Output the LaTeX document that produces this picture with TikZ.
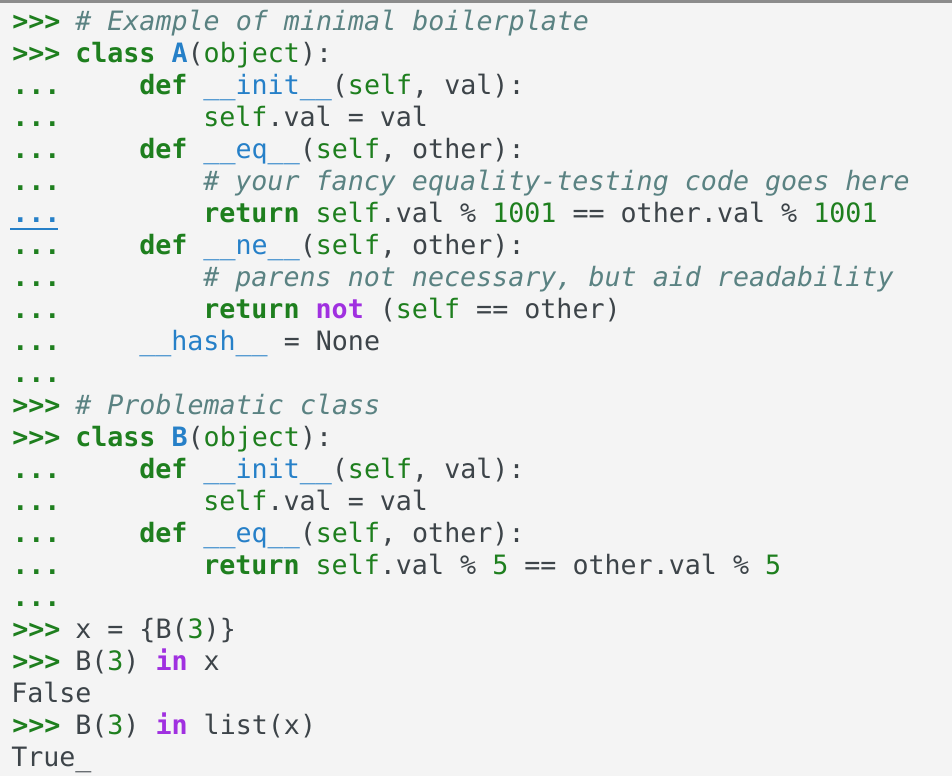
\documentclass[tikz,border=0pt]{standalone}
\usepackage{fontspec}
\setmonofont{DejaVu Sans Mono}
\definecolor{bgc}{HTML}{F4F4F4}
\definecolor{txt}{HTML}{3D4449}
\definecolor{kwc}{HTML}{1E7F1E}
\definecolor{blc}{HTML}{2680C8}
\definecolor{cmc}{HTML}{5A8282}
\definecolor{puc}{HTML}{A030E0}
\newcommand{\kw}[1]{\textcolor{kwc}{\bfseries #1}}
\newcommand{\gr}[1]{\textcolor{kwc}{#1}}
\newcommand{\bl}[1]{\textcolor{blc}{#1}}
\newcommand{\blb}[1]{\textcolor{blc}{\bfseries #1}}
\newcommand{\cm}[1]{\textcolor{cmc}{\itshape #1}}
\newcommand{\pu}[1]{\textcolor{puc}{\bfseries #1}}
\newcommand{\pin}{\kw{>>>}}
\newcommand{\pdot}{\kw{...}}
% one line of the session: number, indent, prompt, code
\newcommand{\codeline}[4]{%
  \node[code, anchor=base west] (p#1) at (12,{30+32*(#1-1)}) {#3};
  \node[code, anchor=base west] (c#1) at ({75+16*#2},{30+32*(#1-1)}) {#4};
}
\begin{document}
\begin{tikzpicture}[
    x=0.75pt, y=-0.75pt,
    code/.style={inner sep=0pt, text=txt, font=\ttfamily\fontsize{20}{22}\selectfont}
  ]
  \fill[bgc] (0,0) rectangle (952,776);
  \fill[black!45] (0,0) rectangle (952,3);
  \useasboundingbox (0,0) rectangle (952,776);
  \codeline{1}{0}{\pin}{\cm{\# Example of minimal boilerplate}}
  \codeline{2}{0}{\pin}{\kw{class} \blb{A}(\gr{object}):}
  \codeline{3}{4}{\pdot}{\kw{def} \bl{\_\_init\_\_}(\gr{self}, val):}
  \codeline{4}{8}{\pdot}{\gr{self}.val = val}
  \codeline{5}{4}{\pdot}{\kw{def} \bl{\_\_eq\_\_}(\gr{self}, other):}
  \codeline{6}{8}{\pdot}{\cm{\# your fancy equality-testing code goes here}}
  \codeline{7}{8}{\textcolor{blc}{\bfseries ...}}{\kw{return} \gr{self}.val \% \gr{1001} == other.val \% \gr{1001}}
  \codeline{8}{4}{\pdot}{\kw{def} \bl{\_\_ne\_\_}(\gr{self}, other):}
  \codeline{9}{8}{\pdot}{\cm{\# parens not necessary, but aid readability}}
  \codeline{10}{8}{\pdot}{\kw{return} \pu{not} (\gr{self} == other)}
  \codeline{11}{4}{\pdot}{\bl{\_\_hash\_\_} = None}
  \codeline{12}{0}{\pdot}{}
  \codeline{13}{0}{\pin}{\cm{\# Problematic class}}
  \codeline{14}{0}{\pin}{\kw{class} \blb{B}(\gr{object}):}
  \codeline{15}{4}{\pdot}{\kw{def} \bl{\_\_init\_\_}(\gr{self}, val):}
  \codeline{16}{8}{\pdot}{\gr{self}.val = val}
  \codeline{17}{4}{\pdot}{\kw{def} \bl{\_\_eq\_\_}(\gr{self}, other):}
  \codeline{18}{8}{\pdot}{\kw{return} \gr{self}.val \% \gr{5} == other.val \% \gr{5}}
  \codeline{19}{0}{\pdot}{}
  \codeline{20}{0}{\pin}{x = \{B(\gr{3})\}}
  \codeline{21}{0}{\pin}{B(\gr{3}) \pu{in} x}
  \codeline{22}{-4}{}{False}
  \codeline{23}{0}{\pin}{B(\gr{3}) \pu{in} list(x)}
  \codeline{24}{-4}{}{True\_}
  \draw[blc, line width=1pt] (10,229) -- (58,229);
\end{tikzpicture}
\end{document}
